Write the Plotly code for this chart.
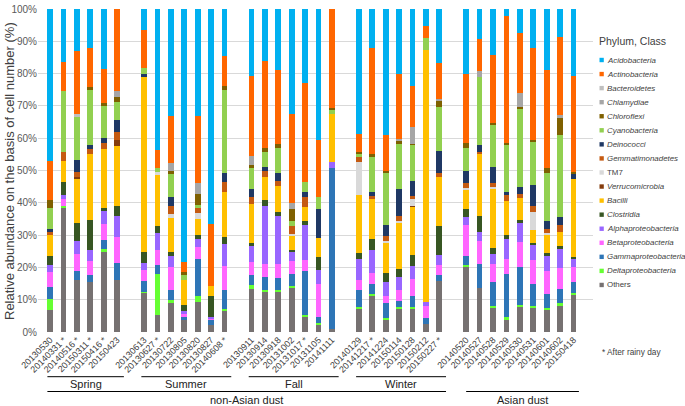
import plotly.graph_objects as go

# ---------------- data ----------------
spring_labels = ["20130530", "20140331 *", "20140516 *", "20150311 *", "20150416 *", "20150423"]
summer_labels = ["20130613", "20130627 *", "20130722", "20130805", "20130820", "20130827", "20140608 *"]
fall_labels = ["20130911", "20130914", "20130918", "20131002", "20131017 *", "20131105", "20141111"]
winter_labels = ["20140129", "20141217 *", "20141224", "20150114", "20150128", "20150212", "20150227 *"]
asian_labels = ["20140520", "20140527", "20140528", "20140529", "20140530", "20140531", "20140601", "20140602", "20150418"]

group_names = ["Spring", "Summer", "Fall", "Winter", "Asian dust"]
group_labels = [spring_labels, summer_labels, fall_labels, winter_labels, asian_labels]

# legend order (top to bottom); stacking is the reverse
taxa = ["Acidobacteria", "Actinobacteria", "Bacteroidetes", "Chlamydiae", "Chloroflexi",
        "Cyanobacteria", "Deinococci", "Gemmatimonadetes", "TM7", "Verrucomicrobia",
        "Bacilli", "Clostridia", "Alphaproteobacteria", "Betaproteobacteria",
        "Gammaproteobacteria", "Deltaproteobacteria", "Others"]
italic = [True] * 8 + [False] + [True] * 7 + [False]

acidobacteria = [47.2, 16.5, 12.9, 12.0, 18.7, 0, 6.5, 43.6, 33.1, 78.2, 33.0, 66.5, 14.4, 20.8, 16.0, 18.9, 32.5, 22.8, 40.5, 0, 38.7, 12.0, 39.0, 20.1, 23.8, 5.3, 16.6, 20.2, 9.4, 14.2, 2.2, 7.5, 12.2, 18.9, 8.8, 20.8]
actinobacteria = [11.9, 8.8, 19.7, 12.2, 10.5, 25.3, 11.9, 5.7, 14.6, 3.1, 21.0, 19.4, 9.3, 24.8, 26.9, 22.9, 27.6, 30.7, 17.7, 30.7, 5.6, 32.8, 11.2, 20.2, 12.6, 3.6, 11.2, 21.4, 9.8, 21.1, 39.3, 18.6, 28.3, 30.2, 24.0, 29.6]
bacteroidetes = [0, 0, 0.7, 0, 0, 0, 0, 0, 0, 0, 0, 0, 0, 0, 0, 0, 0, 0, 0, 0, 0, 0, 0, 0, 0, 0, 0, 0, 0, 0, 0, 0, 0, 0, 0, 0]
chlamydiae = [0, 0, 0, 0, 0, 1.8, 0, 0, 2.4, 0, 3.4, 0, 0, 2.8, 0, 0, 1.9, 0, 0, 0, 0, 0, 0, 0.7, 5.4, 0, 0.7, 0, 2.0, 0, 0, 4.3, 0, 0, 0.8, 0]
chloroflexi = [2.5, 0, 0, 0.9, 0.8, 1.8, 0, 0, 0.9, 1.1, 3.3, 0, 1.3, 0.8, 1.4, 1.3, 3.5, 0, 0, 0.7, 0.5, 1.1, 0.3, 0.8, 0.3, 0, 1.9, 1.5, 0, 0.6, 0.5, 0.5, 0.5, 1.7, 5.4, 0.7]
cyanobacteria = [6.5, 19.1, 13.6, 17.0, 10.0, 5.6, 1.7, 1.2, 7.2, 1.5, 1.0, 0, 25.8, 6.5, 4.7, 7.7, 1.8, 3.3, 3.8, 1.1, 1.1, 10.9, 16.3, 13.9, 11.3, 3.8, 13.5, 7.1, 21.0, 13.1, 14.8, 24.2, 13.4, 14.9, 25.4, 0]
deinococci = [0.8, 0, 3.6, 1.2, 1.5, 3.6, 0.8, 0, 2.7, 0, 0, 0, 2.8, 2.5, 1.3, 2.4, 0, 1.5, 8.9, 0, 0, 1.2, 3.4, 8.3, 4.4, 0, 6.9, 3.8, 2.0, 4.8, 0.7, 2.2, 6.7, 2.3, 2.4, 1.6]
gemmatimonadetes = [1.2, 2.8, 1.4, 1.5, 1.8, 2.6, 0, 0, 2.6, 0, 1.6, 0, 3.1, 2.2, 1.8, 1.5, 2.4, 3.1, 0, 0, 1.4, 0.8, 1.7, 1.5, 1.0, 0, 1.1, 1.4, 0.8, 1.4, 1.9, 1.2, 1.8, 1.4, 2.1, 0]
tm7 = [0, 0, 0, 0, 0, 0, 0, 1.0, 1.2, 0, 1.6, 0, 0, 0, 0, 0, 0.7, 0, 0, 0, 10.2, 0, 0.4, 0.5, 2.1, 0, 0, 0.5, 0, 0.5, 0, 0, 5.4, 0.5, 0, 0]
verrucomicrobia = [0, 0, 0.7, 0, 0, 1.6, 0, 0, 0, 0, 0, 0, 0, 0, 0, 0, 0, 0, 0, 0, 0, 0, 0, 0, 0.4, 0, 0, 0, 0, 0, 0, 0, 0, 0, 0, 0]
bacilli = [6.3, 6.5, 13.5, 20.5, 18.3, 18.8, 54.4, 15.6, 10.6, 7.7, 5.0, 3.1, 14.0, 12.0, 7.0, 8.0, 4.1, 4.1, 5.9, 14.9, 18.0, 12.4, 9.3, 14.5, 14.8, 78.1, 15.2, 6.1, 19.0, 18.3, 10.5, 6.9, 4.1, 5.6, 4.6, 24.0]
clostridia = [2.8, 3.8, 5.7, 9.4, 0.9, 2.9, 3.2, 2.3, 1.1, 2.0, 1.3, 6.2, 2.0, 1.0, 1.8, 1.3, 0.8, 1.5, 3.9, 0, 1.9, 3.3, 2.8, 2.6, 3.6, 0, 9.0, 2.3, 5.0, 1.8, 1.3, 0.7, 0.6, 1.1, 0.8, 0.8]
alphaproteobacteria = [2.3, 1.4, 4.0, 3.4, 4.0, 6.6, 2.2, 5.1, 3.5, 0.8, 2.5, 0.5, 6.8, 5.0, 18.0, 14.9, 2.8, 10.6, 4.5, 1.7, 6.5, 7.3, 4.4, 3.8, 3.8, 1.1, 3.1, 2.6, 2.8, 3.1, 6.2, 5.9, 4.6, 4.6, 5.9, 2.3]
betaproteobacteria = [4.7, 2.0, 5.4, 4.2, 4.9, 8.1, 3.6, 4.9, 7.0, 1.0, 3.7, 0.5, 7.4, 3.9, 4.2, 4.4, 3.9, 3.6, 10.0, 0, 3.0, 3.3, 2.2, 3.6, 5.3, 3.8, 3.1, 9.6, 7.1, 5.6, 4.6, 7.9, 7.4, 6.9, 6.5, 4.7]
gammaproteobacteria = [3.5, 0, 2.6, 2.3, 2.9, 5.3, 3.3, 2.6, 3.1, 0.6, 11.6, 1.5, 6.0, 3.2, 3.8, 3.6, 3.7, 13.4, 2.0, 50.0, 5.3, 3.1, 4.8, 1.8, 3.5, 1.7, 2.0, 2.8, 7.5, 7.6, 13.2, 11.6, 6.8, 4.5, 4.3, 3.5]
deltaproteobacteria = [3.4, 0.7, 0, 0, 0.8, 0, 0.3, 12.6, 1.0, 0, 1.8, 0, 0.5, 1.3, 0.7, 0.5, 0.7, 0.6, 0.5, 0, 0.4, 0.5, 0.2, 0.3, 0.3, 0, 0, 0.4, 0, 0.3, 1.0, 0.6, 0.6, 0.5, 0.8, 0.5]
others = [6.9, 38.4, 16.2, 15.4, 24.9, 16.0, 12.1, 5.4, 9.0, 4.0, 9.2, 2.3, 6.6, 13.2, 12.4, 12.6, 13.6, 4.8, 2.3, 0.9, 7.4, 11.3, 4.0, 7.4, 7.4, 2.6, 15.7, 20.3, 13.6, 7.6, 3.8, 7.9, 7.6, 6.9, 8.2, 11.5]

series = [acidobacteria, actinobacteria, bacteroidetes, chlamydiae, chloroflexi,
          cyanobacteria, deinococci, gemmatimonadetes, tm7, verrucomicrobia,
          bacilli, clostridia, alphaproteobacteria, betaproteobacteria,
          gammaproteobacteria, deltaproteobacteria, others]

colors = ["#00B0F0", "#FF6600", "#BFBFBF", "#A6A6A6", "#7F6000",
          "#92D050", "#1F3864", "#C55A11", "#D9D9D9", "#843C0C",
          "#FFC000", "#375623", "#9966FF", "#FF66FF",
          "#2E75B6", "#66FF33", "#767171"]

# ---------------- positions (one empty slot between groups) ----------------
xpos, xlabels, group_spans = [], [], []
pos = 0
for labels in group_labels:
    start = pos
    for lab in labels:
        xpos.append(pos)
        xlabels.append(lab)
        pos += 1
    group_spans.append((start, pos - 1))
    pos += 1

FONT = "Liberation Sans, Arial, sans-serif"
W, H = 685, 406
ML, MR, MT, MB = 38, 92, 9, 74
PW, PH = W - ML - MR, H - MT - MB


def px_x(px):
    return (px - ML) / PW


def px_y(py):
    return (H - MB - py) / PH


fig = go.Figure()
for name, vals, col in reversed(list(zip(taxa, series, colors))):
    fig.add_trace(go.Bar(x=xpos, y=vals, name=name, marker=dict(color=col, line=dict(width=0)),
                         showlegend=False))

fig.update_layout(
    width=W, height=H,
    margin=dict(l=ML, r=MR, t=MT, b=MB, autoexpand=False),
    barmode="stack", barnorm="percent", bargap=0.57,
    paper_bgcolor="white", plot_bgcolor="white",
    font=dict(family=FONT, color="#404040"),
    xaxis=dict(range=[-0.9, pos - 1 + 0.45], tickvals=xpos, ticktext=xlabels, tickangle=-45,
               tickfont=dict(size=9, color="#404040"), showgrid=False, zeroline=False,
               showline=False, ticks="", automargin=False),
    yaxis=dict(range=[0, 100], dtick=10, ticksuffix="%", showgrid=True, gridcolor="#D9D9D9",
               gridwidth=1, zeroline=False, showline=False, ticks="", automargin=False,
               tickfont=dict(size=10, color="#595959")),
)

shapes, annotations = [], []
# season lines
line_y = px_y(376.7)
for (a, b), name in zip(group_spans[:4], group_names[:4]):
    x0, x1 = a - 0.2, b + 0.5
    shapes.append(dict(type="line", xref="x", yref="paper", x0=x0, x1=x1, y0=line_y, y1=line_y,
                       line=dict(color="black", width=1)))
    annotations.append(dict(xref="x", yref="paper", x=(x0 + x1) / 2, y=px_y(384), text=name,
                            showarrow=False, font=dict(size=11, color="#222222"), yanchor="middle"))
# dust-type lines
low_y = px_y(391.5)
nx0, nx1 = group_spans[0][0] - 0.2, group_spans[3][1] + 0.5
shapes.append(dict(type="line", xref="x", yref="paper", x0=nx0, x1=nx1, y0=low_y, y1=low_y,
                   line=dict(color="black", width=1)))
annotations.append(dict(xref="x", yref="paper", x=(nx0 + nx1) / 2, y=px_y(399.5), text="non-Asian dust",
                        showarrow=False, font=dict(size=11, color="#222222"), yanchor="middle"))
ax0, ax1 = group_spans[4][0], group_spans[4][1] + 0.4
shapes.append(dict(type="line", xref="x", yref="paper", x0=ax0, x1=ax1, y0=low_y, y1=low_y,
                   line=dict(color="black", width=1)))
annotations.append(dict(xref="x", yref="paper", x=(ax0 + ax1) / 2, y=px_y(399.5), text="Asian dust",
                        showarrow=False, font=dict(size=11, color="#222222"), yanchor="middle"))

# y-axis title
annotations.append(dict(xref="paper", yref="paper", x=px_x(9), y=px_y(171),
                        text="Relative abundance on the basis of cell number (%)", textangle=-90,
                        showarrow=False, font=dict(size=13, color="#404040"),
                        xanchor="center", yanchor="middle"))

# legend (drawn manually for compact spacing)
annotations.append(dict(xref="paper", yref="paper", x=px_x(597), y=px_y(41), text="Phylum, Class",
                        showarrow=False, xanchor="left", yanchor="middle",
                        font=dict(size=10.5, color="#404040")))
for i, (name, col, it) in enumerate(zip(taxa, colors, italic)):
    cy = 60 + i * 14.06
    shapes.append(dict(type="rect", xref="paper", yref="paper",
                       x0=px_x(599.5), x1=px_x(603.8), y0=px_y(cy + 2.2), y1=px_y(cy - 2.2),
                       fillcolor=col, line=dict(width=0)))
    annotations.append(dict(xref="paper", yref="paper", x=px_x(604.5), y=px_y(cy),
                            text=f"<i>{name}</i>" if it else name, showarrow=False,
                            xanchor="left", yanchor="middle", font=dict(size=7.9, color="#404040")))

annotations.append(dict(xref="paper", yref="paper", x=px_x(600), y=px_y(352), text="* After rainy day",
                        showarrow=False, xanchor="left", yanchor="middle",
                        font=dict(size=8.3, color="#404040")))

fig.update_layout(shapes=shapes, annotations=annotations)
fig.write_html("out.html", config={"displayModeBar": False},
               post_script="document.body.style.margin='0px';document.body.style.overflow='hidden';")
